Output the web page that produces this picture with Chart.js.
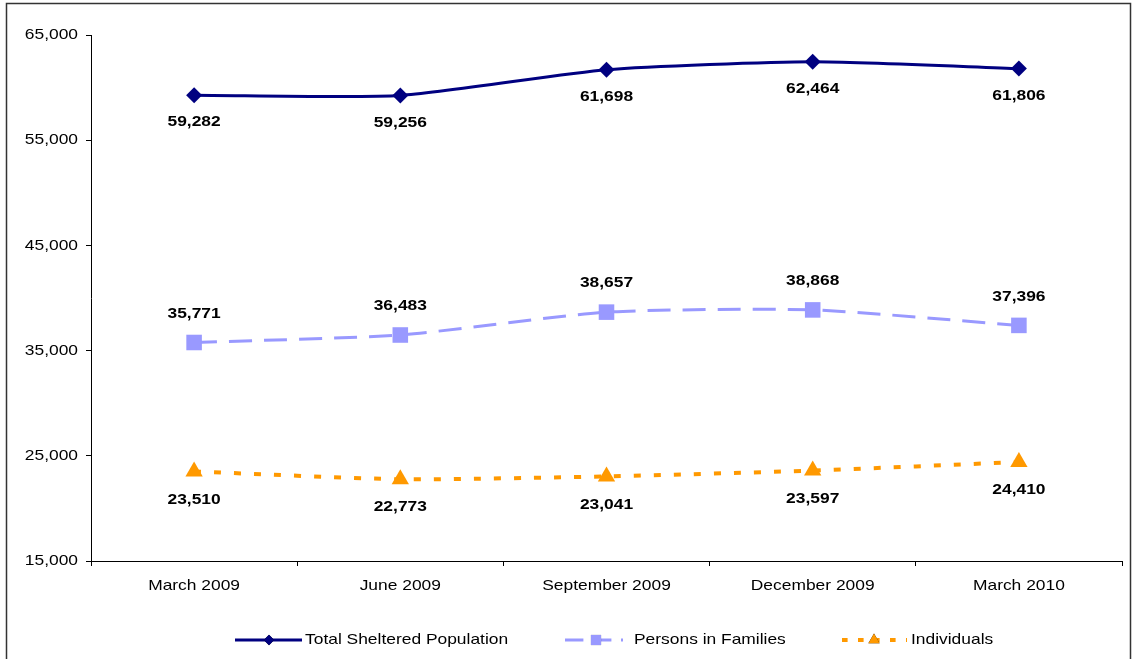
<!DOCTYPE html>
<html>
<head>
<meta charset="utf-8">
<script src="https://cdn.jsdelivr.net/npm/chart.js@4/dist/chart.umd.min.js"></script>
<style>
  html, body { margin: 0; padding: 0; background: #fff; }
  #wrap { position: relative; width: 1133px; height: 659px; }
</style>
</head>
<body>
<div id="wrap"><canvas id="myChart" width="1133" height="659"></canvas></div>
<script>
const QUARTERS = ["March 2009", "June 2009", "September 2009", "December 2009", "March 2010"]
const TOTAL = [59282, 59256, 61698, 62464, 61806]
const FAMILIES = [35771, 36483, 38657, 38868, 37396]
const INDIVIDUALS = [23510, 22773, 23041, 23597, 24410]
const Y_TICKS = [15000, 25000, 35000, 45000, 55000, 65000]

const SERIES = [
  { label: "Total Sheltered Population", data: TOTAL, color: "#000080", point: "rectRot", radius: 8, dash: [], width: 3, labelOffset: 27 },
  { label: "Persons in Families", data: FAMILIES, color: "#9999FF", point: "rect", radius: 11, dash: [23, 12], width: 3, labelOffset: -29 },
  { label: "Individuals", data: INDIVIDUALS, color: "#FF9900", point: "triangle", radius: 10, dash: [7, 13], width: 4, labelOffset: 28 },
]

const FONT = "'Liberation Sans', Arial, sans-serif"
const TEXT_STRETCH = 1.16

const fmt = (v) => v.toLocaleString("en-US")

// text in this chart is set a little wide
function wideText(ctx, text, x, y, align) {
  ctx.save()
  ctx.translate(x, y)
  ctx.scale(TEXT_STRETCH, 1)
  ctx.textAlign = align
  ctx.fillText(text, 0, 0)
  ctx.restore()
}

// axis tick labels, taken from the chart's own scales
const axisLabels = {
  id: "axisLabels",
  afterDraw(chart) {
    const ctx = chart.ctx
    const { x, y } = chart.scales
    ctx.save()
    ctx.font = `15px ${FONT}`
    ctx.fillStyle = "#000"
    ctx.textBaseline = "middle"
    y.ticks.forEach((t) => {
      wideText(ctx, fmt(t.value), y.right - 13, y.getPixelForValue(t.value), "right")
    })
    chart.data.labels.forEach((lab, i) => {
      wideText(ctx, lab, x.getPixelForTick(i), x.top + 25, "center")
    })
    ctx.restore()
  },
}

// value labels above / below each point
const valueLabels = {
  id: "valueLabels",
  afterDatasetsDraw(chart) {
    const ctx = chart.ctx
    ctx.save()
    ctx.font = `bold 15px ${FONT}`
    ctx.fillStyle = "#000"
    ctx.textBaseline = "middle"
    chart.data.datasets.forEach((ds, i) => {
      const meta = chart.getDatasetMeta(i)
      meta.data.forEach((pt, j) => {
        wideText(ctx, fmt(ds.data[j]), pt.x, pt.y + SERIES[i].labelOffset, "center")
      })
    })
    ctx.restore()
  },
}

// bottom legend with line + marker swatches, and the outer frame
const frameLegend = {
  id: "frameLegend",
  afterDraw(chart) {
    const ctx = chart.ctx
    ctx.save()
    ctx.strokeStyle = "#333"
    ctx.lineWidth = 1.5
    ctx.strokeRect(6.5, 3.5, 1124, 700)

    const y = 640
    const items = [
      { x0: 235, x1: 302, mx: 269, tx: 305 },
      { x0: 565, x1: 623, mx: 596, tx: 634 },
      { x0: 842, x1: 907, mx: 874, tx: 911 },
    ]
    ctx.font = `15px ${FONT}`
    ctx.textBaseline = "middle"
    items.forEach((it, i) => {
      const s = SERIES[i]
      ctx.strokeStyle = s.color
      ctx.lineWidth = s.width
      ctx.setLineDash(s.dash.length ? [s.dash[0] * 0.8, s.dash[1] * 0.8] : [])
      ctx.beginPath()
      ctx.moveTo(it.x0, y)
      ctx.lineTo(it.x1, y)
      ctx.stroke()
      ctx.setLineDash([])
      Chart.helpers.drawPoint(ctx, { pointStyle: s.point, radius: s.radius * 0.65, rotation: 0 }, it.mx, y)
      ctx.fillStyle = s.color
      ctx.fill()
      ctx.fillStyle = "#000"
      wideText(ctx, s.label, it.tx, y, "left")
    })
    ctx.restore()
  },
}

const ctx = document.getElementById("myChart").getContext("2d")
new Chart(ctx, {
  type: "line",
  data: {
    labels: QUARTERS,
    datasets: SERIES.map((s) => ({
      label: s.label,
      data: s.data,
      borderColor: s.color,
      backgroundColor: s.color,
      borderWidth: s.width,
      borderDash: s.dash,
      pointStyle: s.point,
      pointRadius: s.radius,
      pointHoverRadius: s.radius,
      pointBorderWidth: 0,
      tension: 0.2,
      fill: false,
    })),
  },
  options: {
    responsive: false,
    animation: false,
    devicePixelRatio: 1,
    layout: { padding: { top: 35, right: 9, left: 0, bottom: 0 } },
    plugins: {
      legend: { display: false },
      tooltip: { enabled: false },
    },
    scales: {
      x: {
        offset: true,
        afterFit(scale) { scale.height = 98 },
        grid: { display: true, drawOnChartArea: false, offset: true, tickLength: 5, color: "#000" },
        border: { display: true, color: "#000", width: 1 },
        ticks: { display: false },
      },
      y: {
        min: 15000,
        max: 65000,
        afterFit(scale) { scale.width = 91 },
        afterBuildTicks(scale) { scale.ticks = Y_TICKS.map((v) => ({ value: v })) },
        grid: { display: true, drawOnChartArea: false, tickLength: 5, color: "#000" },
        border: { display: true, color: "#000", width: 1 },
        ticks: { display: false },
      },
    },
  },
  plugins: [axisLabels, valueLabels, frameLegend],
})
</script>
</body>
</html>
